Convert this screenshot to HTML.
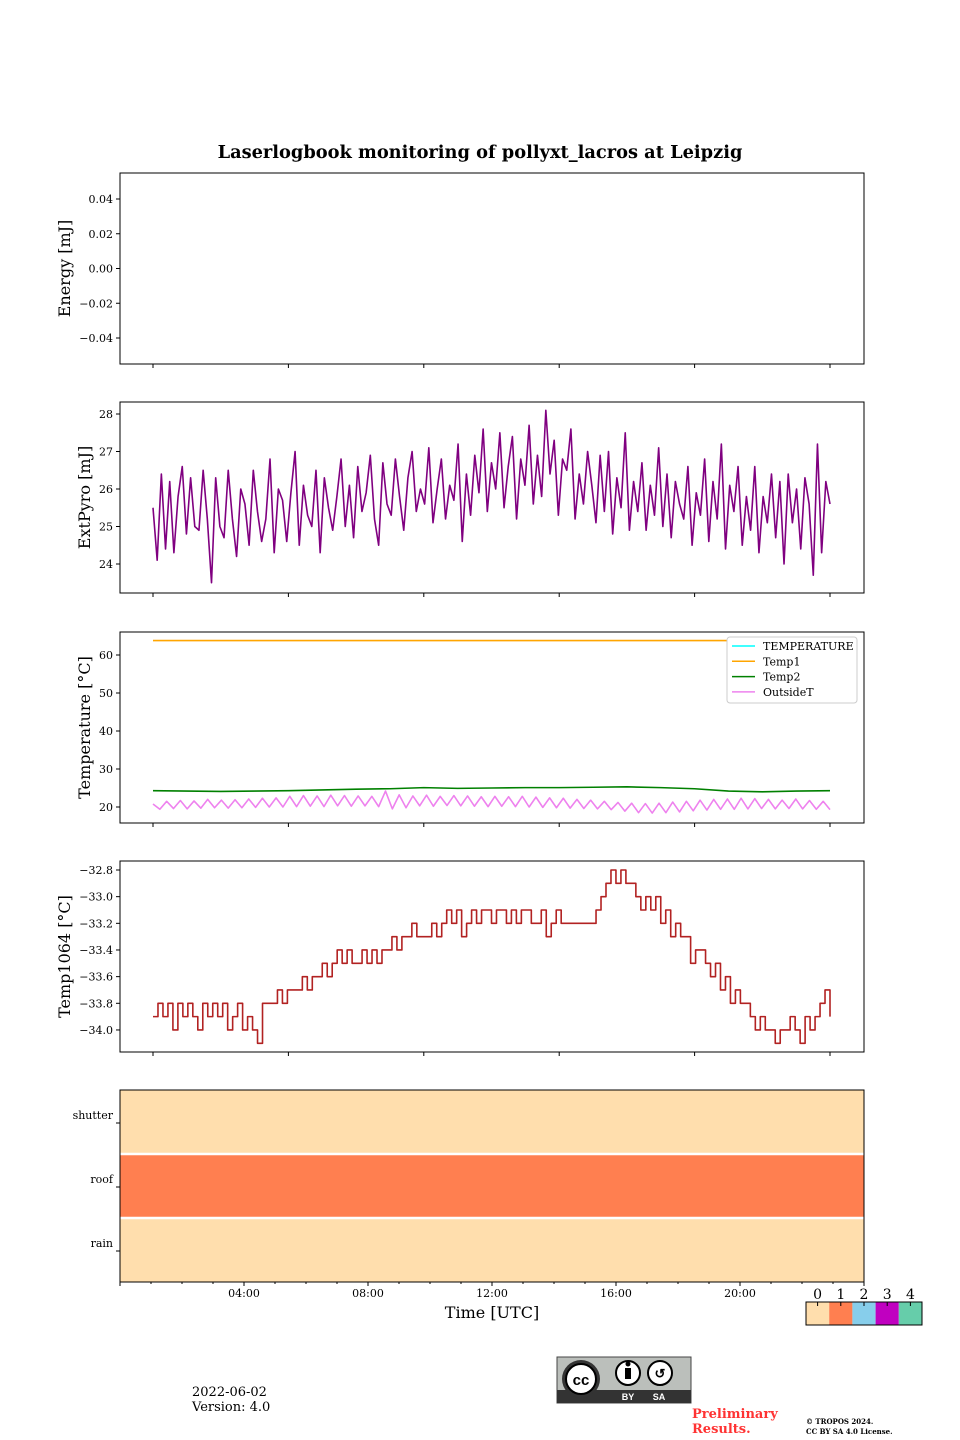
<!DOCTYPE html>
<html><head><meta charset="utf-8"><style>
body{margin:0;background:#fff}
svg{display:block;font-family:"DejaVu Serif","Liberation Serif",serif}
</style></head><body>
<svg id="s" width="960" height="1440" viewBox="0 0 960 1440">
<text x="480" y="158" text-anchor="middle" font-size="17.8" font-weight="bold">Laserlogbook monitoring of pollyxt_lacros at Leipzig</text>
</svg>
<script>
const pyro=[25.5,24.1,26.4,24.4,26.2,24.3,25.8,26.6,24.8,26.3,25.0,24.9,26.5,25.2,23.5,26.3,25.0,24.7,26.5,25.2,24.2,26.0,25.6,24.5,26.5,25.4,24.6,25.2,26.8,24.3,26.0,25.7,24.6,25.9,27.0,24.5,26.1,25.3,25.0,26.5,24.3,26.3,25.5,24.9,25.8,26.8,25.0,26.1,24.7,26.6,25.4,25.9,26.9,25.2,24.5,26.7,25.6,25.3,26.8,25.8,24.9,26.3,27.0,25.4,26.0,25.6,27.1,25.1,26.0,26.8,25.2,26.1,25.7,27.2,24.6,26.4,25.3,26.9,25.9,27.6,25.4,26.7,26.0,27.5,25.5,26.6,27.4,25.2,26.8,26.1,27.7,25.6,26.9,25.8,28.1,26.4,27.3,25.3,26.8,26.5,27.6,25.2,26.4,25.6,27.0,26.1,25.1,26.9,25.4,27.0,24.8,26.3,25.5,27.5,24.9,26.2,25.4,26.7,24.9,26.1,25.3,27.1,25.0,26.4,24.7,26.2,25.6,25.2,26.6,24.5,25.9,25.3,26.8,24.6,26.2,25.2,27.2,24.4,26.1,25.4,26.6,24.5,25.8,24.9,26.6,24.3,25.8,25.1,26.4,24.7,26.2,24.0,26.4,25.1,26.0,24.4,26.3,25.6,23.7,27.2,24.3,26.2,25.6];
const temp1=[63.8,63.8];
const temp2=[24.3,24.2,24.1,24.2,24.3,24.5,24.7,24.8,25.1,24.9,25.0,25.1,25.1,25.2,25.3,25.1,24.8,24.2,24.0,24.2,24.3];
const outsideT=[20.8,19.4,21.5,19.6,21.7,19.5,21.6,19.7,22.0,19.8,21.8,19.7,21.9,19.8,22.1,19.9,22.3,20.0,22.4,20.0,22.8,20.1,23.0,20.2,22.9,20.1,23.1,20.3,23.0,20.2,22.9,20.3,22.8,20.1,24.2,19.5,23.2,19.8,22.9,20.3,23.1,20.2,22.8,20.4,23.0,20.3,22.9,20.2,22.7,20.1,22.8,20.2,22.7,20.1,22.8,20.0,22.6,19.9,22.4,19.8,22.3,19.7,22.0,19.6,21.8,19.5,21.5,19.3,21.2,18.9,21.0,18.5,20.9,18.4,21.0,18.5,21.3,18.7,21.5,19.0,21.8,19.2,22.0,19.4,22.1,19.4,22.3,19.5,22.2,19.6,22.0,19.5,21.8,19.6,22.1,19.5,21.7,19.4,21.5,19.3];
const temp1064=[-33.9,-33.8,-33.9,-33.8,-34.0,-33.8,-33.9,-33.8,-33.9,-34.0,-33.8,-33.9,-33.8,-33.9,-33.8,-34.0,-33.9,-33.8,-34.0,-33.9,-34.0,-34.1,-33.8,-33.8,-33.8,-33.7,-33.8,-33.7,-33.7,-33.7,-33.6,-33.7,-33.6,-33.6,-33.5,-33.6,-33.5,-33.4,-33.5,-33.4,-33.5,-33.5,-33.4,-33.5,-33.4,-33.5,-33.4,-33.4,-33.3,-33.4,-33.3,-33.3,-33.2,-33.3,-33.3,-33.3,-33.2,-33.3,-33.2,-33.1,-33.2,-33.1,-33.3,-33.2,-33.1,-33.2,-33.1,-33.1,-33.2,-33.1,-33.1,-33.2,-33.1,-33.2,-33.1,-33.1,-33.2,-33.2,-33.1,-33.3,-33.2,-33.1,-33.2,-33.2,-33.2,-33.2,-33.2,-33.2,-33.2,-33.1,-33.0,-32.9,-32.8,-32.9,-32.8,-32.9,-32.9,-33.0,-33.1,-33.0,-33.1,-33.0,-33.2,-33.1,-33.3,-33.2,-33.3,-33.3,-33.5,-33.4,-33.4,-33.5,-33.6,-33.5,-33.7,-33.6,-33.8,-33.7,-33.8,-33.8,-33.9,-34.0,-33.9,-34.0,-34.0,-34.1,-34.0,-34.0,-33.9,-34.0,-34.1,-33.9,-34.0,-33.9,-33.8,-33.7,-33.9];
const flagNames=["shutter","roof","rain"];
const flagValues=[0,1,0];
const flagColors=["#FFDEAD","#FF7F50","#87CEEB","#C000C0","#66CDAA"];
const energyTicks=[0.04,0.02,0.00,-0.02,-0.04];
const pyroTicks=[28,27,26,25,24];
const tempTicks=[60,50,40,30,20];
const t1064Ticks=[-32.8,-33.0,-33.2,-33.4,-33.6,-33.8,-34.0];
const timeTicks=["04:00","08:00","12:00","16:00","20:00"];
const legendNames=["TEMPERATURE","Temp1","Temp2","OutsideT"];
const legendColors=["#00FFFF","#FFA500","#008000","#EE82EE"];

const S=document.getElementById('s');const NS='http://www.w3.org/2000/svg';
function mk(t,a,p){const e=document.createElementNS(NS,t);for(const k in a)e.setAttribute(k,a[k]);(p||S).appendChild(e);return e;}
const X0=120,X1=864,D0=153,D1=830;
function xi(i,n){return D0+i/(n-1)*(D1-D0);}
function panel(name,top,bot,ylab,yscale,ticks,fmt){
  const g=mk('g',{});
  
  
  const r=mk('rect',{x:X0,y:top,width:X1-X0,height:bot-top,fill:'none',stroke:'#000','stroke-width':1},g);
  
  
  ticks.forEach(v=>{const y=yscale(v);
    mk('line',{x1:X0-4,x2:X0,y1:y,y2:y,stroke:'#000'},g);
    const t=mk('text',{x:X0-7,y:y+4,'text-anchor':'end','font-size':11},g);t.textContent=fmt(v);
    
    });
  for(let k=0;k<6;k++){const x=D0+k*(D1-D0)/5;mk('line',{x1:x,x2:x,y1:bot,y2:bot+4,stroke:'#000'},g);}
  const yl=mk('text',{x:0,y:0,transform:`translate(${ylab[1]},${(top+bot)/2}) rotate(-90)`,'text-anchor':'middle','font-size':16},g);
  yl.textContent=ylab[0];
  
  
  return g;
}
function line(g,arr,ys,color,name,step){
  let d='';arr.forEach((v,i)=>{const x=xi(i,arr.length),y=ys(v);
    if(i==0)d+=`M${x},${y}`;else if(step){d+=`H${x}V${y}`;}else d+=`L${x},${y}`;});
  const p=mk('path',{d,fill:'none',stroke:color,'stroke-width':1.6,'stroke-linejoin':'round'},g);
  
  
}
const minus=v=>String(v).replace('-','\u2212');
const y1=v=>268.5-v*1737.5;
panel('energy-panel',173,364,['Energy [mJ]',70],y1,energyTicks,v=>minus(v.toFixed(2)));
const y2=v=>414+(28-v)*37.5;
const g2=panel('extpyro-panel',402,593,['ExtPyro [mJ]',90],y2,pyroTicks,v=>v);
line(g2,pyro,y2,'#800080','extpyro-line');
const y3=v=>655+(60-v)*3.8;
const g3=panel('temperature-panel',632,823,['Temperature [°C]',90],y3,tempTicks,v=>v);
line(g3,temp1,y3,'#FFA500','temp1-line');
line(g3,temp2,y3,'#008000','temp2-line');
line(g3,outsideT,y3,'#EE82EE','outsidet-line');
const lg=mk('g',{},g3);


mk('rect',{x:727,y:637,width:130,height:66,rx:3,fill:'#fff',stroke:'#ccc'},lg);
legendNames.forEach((n,i)=>{const y=646+i*15.3;
  const e=mk('g',{},lg);
  
  
  mk('line',{x1:732,x2:755,y1:y,y2:y,stroke:legendColors[i],'stroke-width':1.5},e);
  const t=mk('text',{x:763,y:y+4,'font-size':11},e);t.textContent=n;});
const y4=v=>870+(-32.8-v)*133.3;
const g4=panel('temp1064-panel',861,1052,['Temp1064 [°C]',70],y4,t1064Ticks,v=>minus(v.toFixed(1)));
line(g4,temp1064,y4,'#B22222','temp1064-line',true);
const g5=mk('g',{});


const rowH=(1282-1090)/3;
flagNames.forEach((n,i)=>{const y=1090+i*rowH;
  const r=mk('rect',{x:X0,y:y,width:X1-X0,height:rowH,fill:flagColors[flagValues[i]]},g5);
  
  
  mk('line',{x1:X0-4,x2:X0,y1:y+rowH/2+1,y2:y+rowH/2+1,stroke:'#000'},g5);
  const t=mk('text',{x:X0-7,y:y+rowH/2-3,'text-anchor':'end','font-size':11},g5);t.textContent=n;
  
  });
mk('line',{x1:X0,x2:X1,y1:1090+rowH,y2:1090+rowH,stroke:'#fff','stroke-width':2.5},g5);
mk('line',{x1:X0,x2:X1,y1:1090+2*rowH,y2:1090+2*rowH,stroke:'#fff','stroke-width':2.5},g5);
mk('rect',{x:X0,y:1090,width:X1-X0,height:192,fill:'none',stroke:'#000'},g5);
const hx=h=>X0+h*(X1-X0)/24;
for(let h=0;h<=24;h++){mk('line',{x1:hx(h),x2:hx(h),y1:1282,y2:1282+(h%4?2:4),stroke:'#000'},g5);}
timeTicks.forEach((l,i)=>{const t=mk('text',{x:hx((i+1)*4),y:1297,'text-anchor':'middle','font-size':11},g5);t.textContent=l;
  
  });
const xt=mk('text',{x:492,y:1318,'text-anchor':'middle','font-size':16},g5);xt.textContent='Time [UTC]';


const cb=mk('g',{});


flagColors.forEach((c,i)=>{const x=806+i*23.2;
  mk('rect',{x:x,y:1302,width:23.2,height:23,fill:c},cb);
  mk('line',{x1:x+11.6,x2:x+11.6,y1:1302,y2:1306,stroke:'#000'},cb);
  const t=mk('text',{x:x+11.6,y:1299,'text-anchor':'middle','font-size':14},cb);t.textContent=i;});
mk('rect',{x:806,y:1302,width:116,height:23,fill:'none',stroke:'#000'},cb);
</script>
<svg style="position:absolute;left:0;top:0" width="960" height="1440">
<text x="192" y="1396" font-size="13" font-family="DejaVu Serif,serif">2022-06-02</text>
<text x="192" y="1411" font-size="13" font-family="DejaVu Serif,serif">Version: 4.0</text>
<g>
<rect x="557" y="1357" width="134" height="46" fill="#bbbfbb" stroke="#444"/>
<rect x="557" y="1390" width="134" height="13" fill="#333"/>
<circle cx="581" cy="1379" r="19" fill="#333"/><circle cx="581" cy="1379" r="15" fill="#fff" stroke="#000" stroke-width="2"/>
<text x="581" y="1385" text-anchor="middle" font-size="15" font-weight="bold" font-family="Liberation Sans,sans-serif">cc</text>
<circle cx="628" cy="1373" r="12" fill="#fff" stroke="#000" stroke-width="2"/><circle cx="660" cy="1373" r="12" fill="#fff" stroke="#000" stroke-width="2"/>
<rect x="625" y="1368" width="6" height="11" fill="#000"/><circle cx="628" cy="1364" r="2.5" fill="#000"/>
<text x="660" y="1378" text-anchor="middle" font-size="13" font-weight="bold" font-family="Liberation Sans,sans-serif">↺</text>
<text x="628" y="1400" text-anchor="middle" font-size="9" fill="#fff" font-weight="bold" font-family="Liberation Sans,sans-serif">BY</text>
<text x="659" y="1400" text-anchor="middle" font-size="9" fill="#fff" font-weight="bold" font-family="Liberation Sans,sans-serif">SA</text>
</g>
<text x="692" y="1418" font-size="13" font-weight="bold" fill="#FF3333" font-family="DejaVu Serif,serif">Preliminary</text>
<text x="692" y="1433" font-size="13" font-weight="bold" fill="#FF3333" font-family="DejaVu Serif,serif">Results.</text>
<text x="806" y="1424" font-size="7" font-weight="bold" font-family="DejaVu Serif,serif">© TROPOS 2024.</text>
<text x="806" y="1434" font-size="7" font-weight="bold" font-family="DejaVu Serif,serif">CC BY SA 4.0 License.</text>
</svg>
</body></html>
